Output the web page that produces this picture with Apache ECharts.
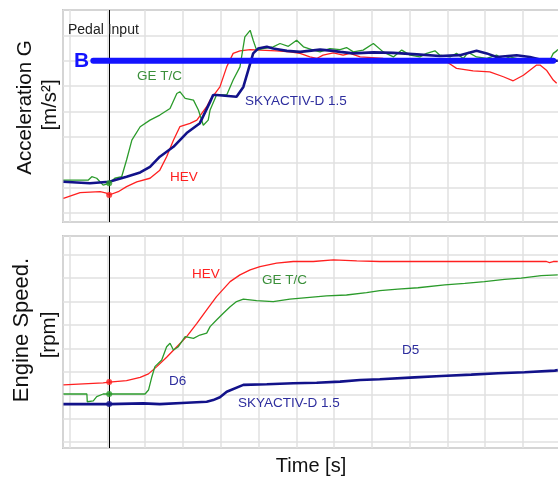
<!DOCTYPE html>
<html>
<head>
<meta charset="utf-8">
<script src="https://cdn.jsdelivr.net/npm/echarts@6/dist/echarts.min.js"></script>
<style>
html,body{margin:0;padding:0;background:#fff;}
#c{width:558px;height:477px;}
</style>
</head>
<body>
<div id="c"></div>
<script>
// ---- data (time in grid units, values in grid units) ----
const pedalTime = 1.05;
const targetB = [[0.63, 6.0], [12.80, 6.0]];

const accSkyactiv = [[-0.16,1.23],[0.54,1.17],[1.05,1.23],[1.51,1.43],[1.87,1.60],[2.13,1.82],[2.39,2.22],[2.75,2.61],[3.10,3.15],[3.45,3.54],[3.72,4.38],[3.80,4.65],[3.89,4.65],[4.42,4.58],[4.60,4.97],[4.73,5.63],[4.86,6.29],[4.99,6.48],[5.22,6.55],[5.39,6.48],[5.75,6.39],[6.10,6.35],[6.63,6.44],[6.98,6.39],[7.16,6.35],[7.51,6.29],[8.04,6.33],[8.57,6.31],[9.19,6.25],[9.80,6.19],[10.33,6.22],[10.77,6.39],[11.04,6.29],[11.30,6.15],[11.83,6.22],[12.18,6.15],[12.53,6.02],[12.80,6.00],[12.92,6.00]];

const accGeTc = [[-0.16,1.30],[0.50,1.30],[0.59,1.43],[0.72,1.37],[0.89,1.10],[1.05,1.17],[1.20,1.37],[1.38,1.43],[1.51,2.09],[1.65,2.87],[1.87,3.40],[2.13,3.66],[2.39,3.86],[2.66,4.12],[2.84,4.71],[2.92,4.78],[3.06,4.52],[3.28,4.45],[3.41,4.06],[3.54,3.46],[3.67,3.66],[3.72,4.06],[3.89,4.65],[4.16,4.65],[4.33,5.24],[4.51,5.76],[4.64,6.94],[4.78,7.20],[4.86,6.81],[4.95,6.42],[5.13,6.48],[5.39,6.55],[5.57,6.68],[5.79,6.57],[6.01,6.81],[6.19,6.55],[6.45,6.42],[6.63,6.35],[6.89,6.48],[7.16,6.44],[7.33,6.52],[7.51,6.35],[7.77,6.42],[8.04,6.68],[8.30,6.35],[8.57,6.15],[8.79,6.42],[9.01,6.22],[9.27,6.15],[9.45,6.29],[9.67,6.39],[9.80,6.22],[10.07,6.15],[10.24,6.29],[10.42,6.09],[10.55,6.33],[10.77,6.15],[11.04,6.09],[11.30,6.22],[11.48,6.05],[11.65,6.15],[11.92,6.05],[12.18,6.09],[12.45,6.02],[12.71,6.02],[12.80,6.29],[12.89,6.39],[12.92,6.45]];

const accHev = [[-0.16,0.58],[0.28,0.80],[0.81,0.84],[0.98,0.78],[1.05,0.71],[1.29,0.84],[1.51,1.04],[1.78,1.23],[2.13,1.37],[2.39,1.69],[2.57,2.22],[2.75,2.87],[2.92,3.40],[3.19,3.53],[3.37,3.66],[3.63,4.19],[3.72,4.45],[3.98,4.97],[4.16,5.76],[4.33,6.29],[4.51,6.39],[4.78,6.44],[5.04,6.42],[5.48,6.39],[5.83,6.35],[6.10,6.29],[6.36,6.15],[6.54,6.09],[6.71,6.22],[6.98,6.31],[7.24,6.22],[7.42,6.29],[7.69,6.15],[8.30,6.09],[8.92,6.05],[9.62,6.00],[9.98,5.96],[10.24,5.70],[10.68,5.60],[11.12,5.56],[11.48,5.37],[11.74,5.21],[12.01,5.43],[12.36,5.83],[12.45,5.83],[12.62,5.63],[12.80,5.24],[12.89,5.11]];

const speedSkyactiv = [[-0.16,1.62],[1.05,1.62],[1.95,1.65],[2.39,1.62],[3.10,1.68],[3.63,1.72],[3.80,1.79],[3.98,1.91],[4.16,2.15],[4.60,2.44],[4.64,2.47],[5.22,2.47],[5.92,2.51],[6.54,2.53],[7.16,2.58],[7.69,2.65],[8.21,2.68],[9.13,2.76],[9.84,2.82],[10.63,2.88],[11.34,2.94],[12.04,2.98],[12.84,3.05],[12.92,3.07]];

const speedGeTc = [[-0.16,2.05],[0.46,2.05],[0.47,1.72],[0.63,1.76],[0.72,1.94],[0.89,2.05],[2.00,2.05],[2.09,2.22],[2.18,2.79],[2.26,3.22],[2.44,3.50],[2.57,4.07],[2.66,4.22],[2.75,3.93],[2.88,4.07],[3.06,4.50],[3.28,4.43],[3.45,4.57],[3.63,4.65],[3.72,4.93],[3.89,5.21],[4.07,5.50],[4.25,5.78],[4.42,6.00],[4.60,6.10],[4.95,6.04],[5.39,6.00],[5.83,6.10],[6.28,6.17],[6.80,6.24],[7.33,6.28],[7.86,6.38],[8.21,6.47],[8.69,6.53],[9.22,6.59],[9.93,6.71],[10.46,6.78],[10.98,6.85],[11.51,6.95],[11.95,7.00],[12.48,7.11],[12.92,7.14]];

const speedHev = [[-0.16,2.44],[0.89,2.53],[1.05,2.56],[1.51,2.62],[1.87,2.76],[2.09,2.91],[2.31,3.22],[2.57,3.62],[2.84,4.07],[3.10,4.50],[3.37,5.07],[3.63,5.64],[3.89,6.21],[4.25,6.85],[4.51,7.14],[4.78,7.35],[5.04,7.49],[5.48,7.64],[5.92,7.71],[6.45,7.71],[6.98,7.78],[7.60,7.74],[8.21,7.71],[8.70,7.71],[8.74,7.76],[8.79,7.71],[9.40,7.71],[9.42,7.66],[9.45,7.71],[12.62,7.71],[12.70,7.66],[12.80,7.71],[12.92,7.71]];

const accPedalMarks = [[1.05,0.71,'hev'],[1.05,1.17,'ge']];
const speedPedalMarks = [[1.05,2.56,'hev'],[1.05,2.05,'ge'],[1.05,1.62,'sky']];

// ---- styling ----
const RED = '#ff2020', GREEN = '#2b9b2b', NAVY = '#12128a', BBLUE = '#1414ff';
const FONT = '"Liberation Sans", Arial, sans-serif';
const markColor = {hev: RED, ge: GREEN, sky: NAVY};

const chart = echarts.init(document.getElementById('c'), null, {renderer: 'canvas'});

function xAx(i) {
  return {
    type: 'value', gridIndex: i, min: -0.172, max: 13.19,
    minInterval: 1, maxInterval: 1,
    axisLine: {show: false}, axisTick: {show: false}, axisLabel: {show: false},
    splitLine: {show: true, lineStyle: {color: '#e0e0e0', width: 1.5}}
  };
}
function yAx(i, min, max) {
  return {
    type: 'value', gridIndex: i, min: min, max: max,
    minInterval: 1, maxInterval: 1,
    axisLine: {show: false}, axisTick: {show: false}, axisLabel: {show: false},
    splitLine: {show: true, lineStyle: {color: '#e0e0e0', width: 1.5}}
  };
}
function line(data, color, width, xi, z) {
  return {
    type: 'line', xAxisIndex: xi, yAxisIndex: xi, data: data,
    showSymbol: false, symbol: 'none', silent: true, z: z,
    lineStyle: {color: color, width: width}
  };
}
function pedalLine(xi) {
  return {
    type: 'line', xAxisIndex: xi, yAxisIndex: xi, data: [], silent: true, z: 3,
    markLine: {
      symbol: 'none', silent: true, animation: false,
      label: {show: false},
      lineStyle: {color: '#000', width: 1, type: 'solid'},
      data: [{xAxis: pedalTime}]
    }
  };
}
function marks(data, xi) {
  return {
    type: 'scatter', xAxisIndex: xi, yAxisIndex: xi, silent: true, z: 6,
    symbol: 'circle', symbolSize: 6,
    data: data.map(d => ({value: [d[0], d[1]], itemStyle: {color: markColor[d[2]]}}))
  };
}
function txt(text, x, y, color, size, extra) {
  return Object.assign({
    type: 'text', x: x, y: y, silent: true, z: 50,
    style: {text: text, fill: color, font: size + 'px ' + FONT, textAlign: 'left', textVerticalAlign: 'middle'}
  }, extra || {});
}
function rtxt(text, x, y, size) {
  return {
    type: 'text', x: x, y: y, rotation: Math.PI / 2, silent: true, z: 50,
    style: {text: text, fill: '#111', font: size + 'px ' + FONT, textAlign: 'center', textVerticalAlign: 'middle'}
  };
}

chart.setOption({
  animation: false,
  backgroundColor: '#ffffff',
  grid: [
    {left: 63, top: 10, width: 505, height: 212, outerBoundsMode: 'none', containLabel: false, show: true, borderColor: '#9c9c9c', borderWidth: 1.5, backgroundColor: '#fff'},
    {left: 63, top: 236, width: 505, height: 212, outerBoundsMode: 'none', containLabel: false, show: true, borderColor: '#9c9c9c', borderWidth: 1.5, backgroundColor: '#fff'}
  ],
  xAxis: [xAx(0), xAx(1)],
  yAxis: [yAx(0, -0.354, 8), yAx(1, -0.256, 8.8)],
  series: [
    pedalLine(0), pedalLine(1),
    line(accHev, RED, 1.3, 0, 4),
    line(accGeTc, GREEN, 1.3, 0, 4),
    line(accSkyactiv, NAVY, 2.6, 0, 5),
    Object.assign(line(targetB, BBLUE, 6, 0, 6), {lineStyle: {color: BBLUE, width: 6, cap: 'round'}}),
    marks(accPedalMarks, 0),
    line(speedHev, RED, 1.3, 1, 4),
    line(speedGeTc, GREEN, 1.3, 1, 4),
    line(speedSkyactiv, NAVY, 2.6, 1, 5),
    marks(speedPedalMarks, 1)
  ],
  graphic: [
    txt('Pedal Input', 68, 30, '#222', 14),
    {type: 'text', x: 74, y: 61, silent: true, z: 50,
     style: {text: 'B', fill: BBLUE, font: 'bold 21px ' + FONT, textAlign: 'left', textVerticalAlign: 'middle'}},
    txt('GE T/C', 137, 76, '#3a8f3a', 13.5),
    txt('SKYACTIV-D 1.5', 245, 101, '#2e2e9e', 13.5),
    txt('HEV', 170, 177, RED, 13.5),
    txt('HEV', 192, 274, RED, 13.5),
    txt('GE T/C', 262, 280, '#3a8f3a', 13.5),
    txt('D6', 169, 381, '#2e2e9e', 13.5),
    txt('SKYACTIV-D 1.5', 238, 403, '#2e2e9e', 13.5),
    txt('D5', 402, 350, '#2e2e9e', 13.5),
    rtxt('Acceleration G', 25, 107.5, 20.5),
    rtxt('[m/s²]', 50, 105, 20.5),
    rtxt('Engine Speed.', 22, 330, 22),
    rtxt('[rpm]', 49, 335, 20.5),
    {type: 'text', x: 311, y: 466, silent: true, z: 50,
     style: {text: 'Time [s]', fill: '#111', font: '20px ' + FONT, textAlign: 'center', textVerticalAlign: 'middle'}}
  ]
});
</script>
</body>
</html>
